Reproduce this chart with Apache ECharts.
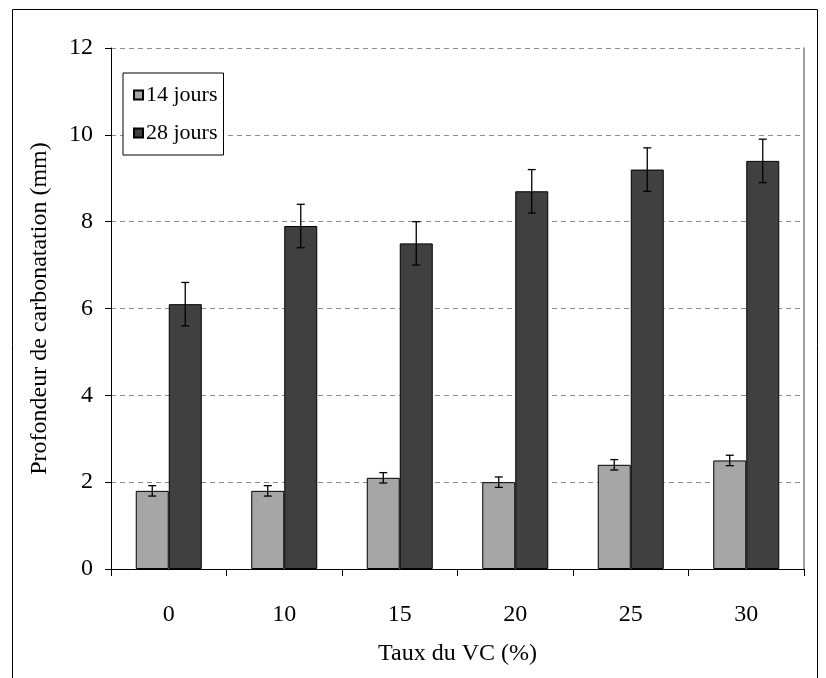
<!DOCTYPE html>
<html>
<head>
<meta charset="utf-8">
<script src="https://cdn.jsdelivr.net/npm/echarts@6/dist/echarts.min.js"></script>
<style>html,body{margin:0;padding:0;background:#fff}#c{width:826px;height:678px}</style>
</head>
<body>
<div id="c"></div>
<script>
const categories = ['0', '10', '15', '20', '25', '30'];
const seriesNames = ['14 jours', '28 jours'];
const days14 = [1.8, 1.8, 2.1, 2.0, 2.4, 2.5];
const days28 = [6.1, 7.9, 7.5, 8.7, 9.2, 9.4];
const err14 = [0.12, 0.12, 0.12, 0.12, 0.12, 0.12];
const err28 = [0.5, 0.5, 0.5, 0.5, 0.5, 0.5];
const yTicks = [0, 2, 4, 6, 8, 10, 12];

const FONT = '"Liberation Serif", "Times New Roman", serif';
const BAR_W = 33;

function errSeries(vals, errs, offset) {
  return {
    type: 'custom',
    z: 10,
    silent: true,
    data: vals.map((v, i) => [i, v, errs[i]]),
    encode: { x: 0, y: 1 },
    renderItem: function (params, api) {
      const i = api.value(0), v = api.value(1), e = api.value(2);
      const top = api.coord([i, v + e]);
      const bot = api.coord([i, v - e]);
      const x = top[0] + offset;
      const cap = 4;
      const st = { stroke: '#000', lineWidth: 1.3 };
      return {
        type: 'group',
        children: [
          { type: 'line', shape: { x1: x, y1: top[1], x2: x, y2: bot[1] }, style: st },
          { type: 'line', shape: { x1: x - cap, y1: top[1], x2: x + cap, y2: top[1] }, style: st },
          { type: 'line', shape: { x1: x - cap, y1: bot[1], x2: x + cap, y2: bot[1] }, style: st }
        ]
      };
    }
  };
}

const chart = echarts.init(document.getElementById('c'), null, { renderer: 'canvas' });
chart.setOption({
  animation: false,
  backgroundColor: '#fff',
  textStyle: { fontFamily: FONT },
  graphic: [{
    type: 'rect', left: 10, top: 7, silent: true, z: -10,
    shape: { width: 805, height: 700 },
    style: { fill: 'none', stroke: '#000', lineWidth: 1 }
  }],
  grid: { left: 111, right: 22, top: 48, bottom: 109 },
  legend: {
    data: seriesNames,
    orient: 'vertical',
    left: 123, top: 73,
    padding: [11, 6, 11, 10],
    itemGap: 16,
    itemWidth: 9, itemHeight: 9,
    backgroundColor: '#fff',
    borderColor: '#000', borderWidth: 1,
    textStyle: { fontFamily: FONT, fontSize: 22, color: '#000', padding: [0, 0, 0, -2] },
    icon: 'rect'
  },
  xAxis: {
    type: 'category',
    data: categories,
    name: 'Taux du VC (%)',
    nameLocation: 'middle',
    nameGap: 73,
    nameTextStyle: { fontFamily: FONT, fontSize: 24, color: '#000' },
    axisLine: { lineStyle: { color: '#000', width: 1 } },
    axisTick: { show: true, length: 7, lineStyle: { color: '#000' } },
    axisLabel: { margin: 34, fontFamily: FONT, fontSize: 24, color: '#000' }
  },
  yAxis: [{
    type: 'value',
    min: 0, max: 12, interval: 2,
    name: 'Profondeur de carbonatation (mm)',
    nameLocation: 'middle',
    nameGap: 59,
    nameTextStyle: { fontFamily: FONT, fontSize: 24, color: '#000' },
    axisLine: { show: true, lineStyle: { color: '#000', width: 1 } },
    axisTick: { show: true, length: 6, lineStyle: { color: '#000' } },
    axisLabel: {
      margin: 18, fontFamily: FONT, fontSize: 24, color: '#000',
      formatter: v => yTicks.includes(v) ? String(v) : ''
    },
    splitLine: { show: true, lineStyle: { color: '#8c8c8c', type: [5, 4], width: 1 } }
  }, {
    type: 'value',
    min: 0, max: 12, interval: 2,
    position: 'right',
    axisLine: { show: true, lineStyle: { color: '#808080', width: 1.5 } },
    axisTick: { show: false },
    axisLabel: { show: false },
    splitLine: { show: false }
  }],
  series: [
    {
      name: seriesNames[0], type: 'bar', data: days14,
      barWidth: BAR_W, barGap: '0%',
      itemStyle: { color: '#a6a6a6', borderColor: '#000', borderWidth: 1 }
    },
    {
      name: seriesNames[1], type: 'bar', data: days28,
      barWidth: BAR_W, barGap: '0%',
      itemStyle: { color: '#404040', borderColor: '#000', borderWidth: 1 }
    },
    errSeries(days14, err14, -BAR_W / 2),
    errSeries(days28, err28, BAR_W / 2)
  ]
});
</script>
</body>
</html>
